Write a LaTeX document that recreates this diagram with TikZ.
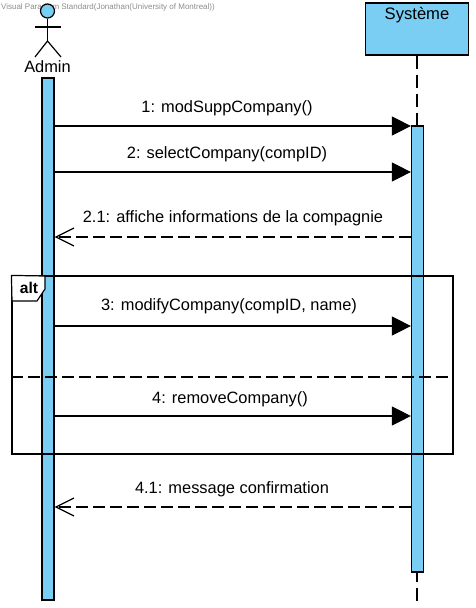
\documentclass[tikz,border=0pt]{standalone}
\usepackage{fontspec}
\setmainfont{Liberation Sans}
\usepackage{xcolor}
\usetikzlibrary{arrows.meta,positioning,calc}
\definecolor{lifeblue}{HTML}{7ACEF4}

\begin{document}
\begin{tikzpicture}[
  x=1pt, y=-1pt, line width=1.2pt,
  bar/.style={draw, fill=lifeblue, minimum width=12pt, inner sep=0pt},
  call/.style={-{Triangle[length=19pt,width=19pt]}},
  reply/.style={-{Straight Barb[length=18pt,width=18pt]}, dash pattern=on 12pt off 5pt},
  msglabel/.style={font=\fontsize{16.4}{18}\selectfont, inner sep=0pt},
]
  \useasboundingbox (0,0) rectangle (476,608);

  \node[font=\fontsize{8}{9}\selectfont, text=black!45, anchor=west, inner sep=0pt] (mark) at (0.5,7)
    {Visual Paradigm Standard(Jonathan(University of Montreal))};

  % actor
  \node[circle, draw, fill=lifeblue, minimum size=14pt, inner sep=0pt] (head) at (47.5,11) {};
  \coordinate (hip) at (47.5,41);
  \coordinate (armL) at (35,27);
  \coordinate (armR) at (61,27);
  \coordinate (footL) at (35,57);
  \coordinate (footR) at (61,57);
  \draw (head.south) -- (hip);
  \draw (armL) -- (armR);
  \draw (footL) -- (hip) -- (footR);
  \node[font=\fontsize{16.4}{18}\selectfont, inner sep=0pt] (admin) at (47.5,66.5) {Admin};

  % system lifeline
  \node[draw, fill=lifeblue, minimum width=103pt, minimum height=52pt, inner sep=0pt] (sys) at (417,29) {};
  \node[font=\fontsize{16.6}{18}\selectfont, inner sep=0pt] (systitle) at (417,15) {Système};
  \coordinate (sysend) at (sys.south |- 0,603);
  \draw[dash pattern=on 13pt off 6pt] (sys.south) -- (sysend);

  % activations
  \node[bar, minimum height=522pt] (adminbar) at (48,339) {};
  \node[bar, minimum height=446pt] (sysbar) at (417.5,349) {};

  % alt fragment
  \node[draw, minimum width=441pt, minimum height=178pt, inner sep=0pt] (alt) at (232.5,365) {};
  \coordinate (tabA) at (alt.north west);
  \coordinate (tabB) at (45,276);
  \coordinate (tabC) at (45,289);
  \coordinate (tabD) at (37,301);
  \coordinate (tabE) at (12,301);
  \draw[fill=white] (tabA) -- (tabB) -- (tabC) -- (tabD) -- (tabE) -- cycle;
  \node[font=\fontsize{15.6}{17}\selectfont\bfseries, inner sep=0pt] (alttag) at (29,288) {alt};
  \coordinate (sepL) at (alt.west |- 0,377);
  \coordinate (sepR) at (alt.east |- 0,377);
  \draw[dash pattern=on 12pt off 5pt] (sepL) -- (sepR);

  % messages
  \coordinate (y1) at (0,126);
  \coordinate (y2) at (0,172);
  \coordinate (y3) at (0,237);
  \coordinate (y4) at (0,326);
  \coordinate (y5) at (0,416);
  \coordinate (y6) at (0,507);

  \draw[call] (adminbar.east |- y1) -- (sysbar.west |- y1);
  \draw[call] (adminbar.east |- y2) -- (sysbar.west |- y2);
  \draw[reply] (sysbar.west |- y3) -- (adminbar.east |- y3);
  \draw[call] (adminbar.east |- y4) -- (sysbar.west |- y4);
  \draw[call] (adminbar.east |- y5) -- (sysbar.west |- y5);
  \draw[reply] (sysbar.west |- y6) -- (adminbar.east |- y6);

  \node[msglabel] (lab1) at (227,108) {1: modSuppCompany()};
  \node[msglabel] (lab2) at (227,154) {2: selectCompany(compID)};
  \node[msglabel] (lab3) at (233,218) {2.1: affiche informations de la compagnie};
  \node[msglabel] (lab4) at (229,306) {3: modifyCompany(compID, name)};
  \node[msglabel] (lab5) at (230,399) {4: removeCompany()};
  \node[msglabel] (lab6) at (232,489) {4.1: message confirmation};
\end{tikzpicture}
\end{document}
